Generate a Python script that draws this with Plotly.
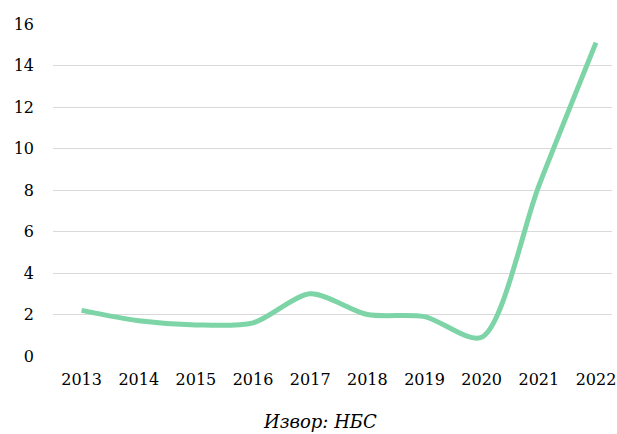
import plotly.graph_objects as go

years = ["2013", "2014", "2015", "2016", "2017", "2018", "2019", "2020", "2021", "2022"]
values = [2.2, 1.7, 1.5, 1.6, 3.0, 2.0, 1.9, 0.9, 8.2, 15.1]
y_ticks = [0, 2, 4, 6, 8, 10, 12, 14, 16]
source_note = "Извор: НБС"

font_family = "DejaVu Serif"

fig = go.Figure()
fig.add_trace(
    go.Scatter(
        x=years,
        y=values,
        mode="lines",
        line={"color": "#7dd5a7", "width": 5, "shape": "spline", "smoothing": 0.8},
        showlegend=False,
    )
)

fig.add_annotation(
    x=0.478,
    y=-0.196,
    xref="paper",
    yref="paper",
    xanchor="center",
    yanchor="middle",
    text=f"<i>{source_note}</i>",
    showarrow=False,
    font={"family": font_family, "size": 18, "color": "#000000"},
)

fig.update_layout(
    width=617,
    height=434,
    margin={"l": 53, "r": 5, "t": 24, "b": 78},
    paper_bgcolor="white",
    plot_bgcolor="white",
    font={"family": font_family, "size": 16, "color": "#000000"},
    xaxis={
        "type": "category",
        "range": [-0.5, 9.28],
        "showgrid": False,
        "showline": False,
        "ticks": "",
        "ticklabelstandoff": 12,
        "automargin": False,
    },
    yaxis={
        "range": [0, 16],
        "tickvals": y_ticks,
        "showgrid": True,
        "gridcolor": "#d9d9d9",
        "gridwidth": 1,
        "zeroline": False,
        "showline": False,
        "ticks": "",
        "ticklabelstandoff": 18,
        "automargin": False,
    },
)

# drop the browser's default body margin so the figure fills the window
fig.write_html(
    "out.html",
    config={"displayModeBar": False},
    post_script="document.body.style.margin='0';document.body.style.overflow='hidden';",
)
